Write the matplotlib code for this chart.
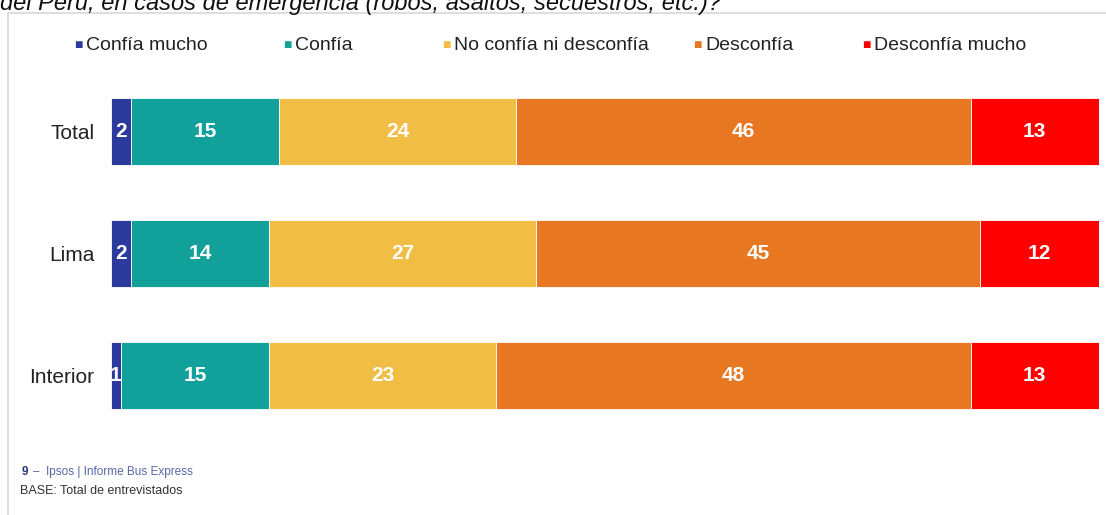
import numpy as np
import matplotlib.pyplot as plt
from matplotlib.lines import Line2D

plt.rcParams['font.family'] = ['Liberation Sans', 'DejaVu Sans']

categories = ['Total', 'Lima', 'Interior']
series = ['Confía mucho', 'Confía', 'No confía ni desconfía', 'Desconfía', 'Desconfía mucho']
values = {
    'Confía mucho': [2, 2, 1],
    'Confía': [15, 14, 15],
    'No confía ni desconfía': [24, 27, 23],
    'Desconfía': [46, 45, 48],
    'Desconfía mucho': [13, 12, 13],
}
colors = ['#2B3A9C', '#12A09A', '#F2BD45', '#E87722', '#FF0000']

W, H = 1106, 515
fig = plt.figure(figsize=(W / 100, H / 100), dpi=100)
ax = fig.add_axes([111 / W, 1 - 448.7 / H, 988 / W, 390.4 / H])

y = np.arange(len(categories))
left = np.zeros(len(categories))
for name, col in zip(series, colors):
    v = np.array(values[name])
    ax.barh(y, v, left=left, height=0.55, color=col, edgecolor='white', linewidth=0.6)
    for yi, li, vi in zip(y, left, v):
        ax.text(li + vi / 2, yi, str(vi), ha='center', va='center',
                color='white', fontsize=15, fontweight='bold')
    left += v

ax.set_xlim(0, 100)
ax.set_ylim(2.6, -0.6)
ax.set_yticks(y)
ax.set_yticklabels(categories, fontsize=15, color='#222222')
ax.tick_params(axis='y', length=0, pad=12)
ax.set_xticks([])
for s in ax.spines.values():
    s.set_visible(False)

# legend, laid out like the original slide
leg_x = [78, 287, 446, 697, 866]
for name, col, lx in zip(series, colors, leg_x):
    fig.text(lx / W, 1 - 45 / H, '■', color=col, fontsize=10, ha='center', va='center')
    fig.text((lx + 8) / W, 1 - 45 / H, name, color='#222222', fontsize=14,
             ha='left', va='center')

# panel frame
fig.add_artist(Line2D([8 / W, 1], [1 - 13 / H, 1 - 13 / H], color='#d8d8d8', lw=1.2))
fig.add_artist(Line2D([8 / W, 8 / W], [0, 1 - 13 / H], color='#d8d8d8', lw=1.2))

# title cut off at the top, as in the source slide
fig.text(0, 1 - 10 / H, 'del Perú, en casos de emergencia (robos, asaltos, secuestros, etc.)?',
         fontsize=17, style='italic', ha='left', va='baseline', color='#111111')

# footer
fig.text(22 / W, 1 - 472 / H, '9', fontsize=8.5, fontweight='bold', color='#2B3A7C',
         ha='left', va='center')
fig.text(33 / W, 1 - 472 / H, '–  Ipsos | Informe Bus Express', fontsize=8.5,
         color='#5A66A8', ha='left', va='center')
fig.text(20 / W, 1 - 491 / H, 'BASE: Total de entrevistados', fontsize=9,
         color='#333333', ha='left', va='center')

fig.savefig('out.png', dpi=100)
